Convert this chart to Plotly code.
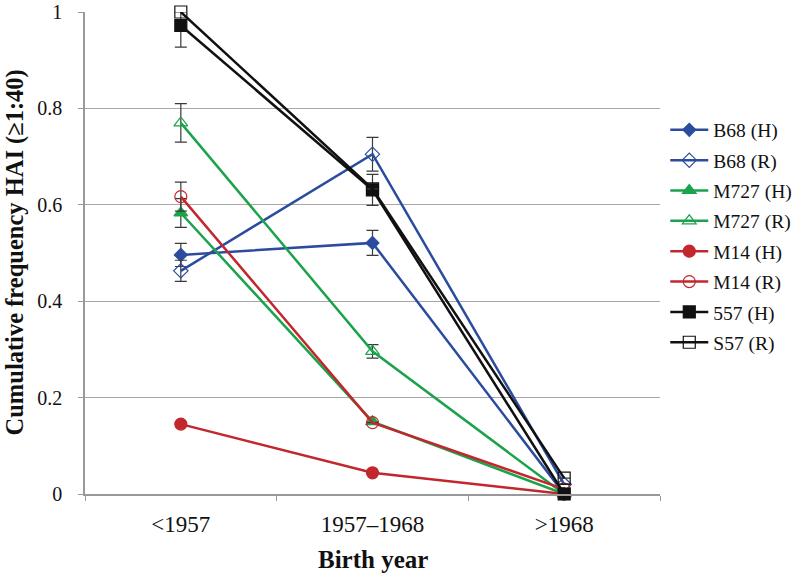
import plotly.graph_objects as go

categories = ["<1957", "1957–1968", ">1968"]

series_names = ["B68 (H)", "B68 (R)", "M727 (H)", "M727 (R)", "M14 (H)", "M14 (R)", "557 (H)", "S57 (R)"]

b68_h = [0.496, 0.521, 0.0]
b68_r = [0.463, 0.705, 0.02]
m727_h = [0.583, 0.150, 0.0]
m727_r = [0.770, 0.296, 0.0]
m14_h = [0.145, 0.044, 0.0]
m14_r = [0.617, 0.148, 0.01]
s557_h = [0.972, 0.631, 0.0]
s57_r = [1.0, 0.633, 0.033]

b68_h_err = [0.024, 0.026, None]
b68_r_err = [0.022, 0.035, None]
m727_h_err = [0.03, None, None]
m727_r_err = [0.04, 0.014, None]
m14_h_err = [None, None, None]
m14_r_err = [0.03, None, None]
s557_h_err = [0.045, 0.032, None]
s57_r_err = [None, None, None]

y_ticks = [0, 0.2, 0.4, 0.6, 0.8, 1]
y_ticktext = ["0", "0.2", "0.4", "0.6", "0.8", "1"]

x_title = "Birth year"
y_title = "Cumulative frequency HAI (≥1:40)"

BLUE = "#2B4C9E"
GREEN = "#1BA34B"
RED = "#C1272D"
BLACK = "#111111"

specs = [
    (series_names[0], b68_h, b68_h_err, BLUE, "diamond", 10),
    (series_names[1], b68_r, b68_r_err, BLUE, "diamond-open", 11),
    (series_names[2], m727_h, m727_h_err, GREEN, "triangle-up", 12),
    (series_names[3], m727_r, m727_r_err, GREEN, "triangle-up-open", 12),
    (series_names[4], m14_h, m14_h_err, RED, "circle", 12),
    (series_names[5], m14_r, m14_r_err, RED, "circle-open", 12),
    (series_names[6], s557_h, s557_h_err, BLACK, "square", 12),
    (series_names[7], s57_r, s57_r_err, BLACK, "square-open", 12),
]

fig = go.Figure()
for name, vals, err, color, sym, size in specs:
    fig.add_trace(go.Scatter(
        x=categories, y=vals, name=name, mode="lines+markers",
        legendgroup=name,
        line=dict(color=color, width=2.5),
        marker=dict(symbol=sym, size=size, color=color, line=dict(color=color, width=1.2)),
        error_y=dict(type="data", array=err, visible=True, color="#3a3a3a", thickness=1.2, width=6),
        cliponaxis=False,
    ))

font_family = "Liberation Serif, Times New Roman, serif"

fig.update_layout(
    width=792, height=573,
    margin=dict(l=85, r=132, t=12, b=79, autoexpand=False),
    paper_bgcolor="white", plot_bgcolor="white",
    font=dict(family=font_family, color="#111111", size=19),
    showlegend=True,
    legend=dict(x=0.84, xanchor="left", xref="container", y=0.535, yanchor="middle",
                font=dict(size=19.5, family=font_family), tracegroupgap=2,
                itemwidth=38, bgcolor="rgba(0,0,0,0)"),
    xaxis=dict(
        type="category", range=[-0.5, 2.5], tickson="boundaries",
        ticks="outside", ticklen=5, tickcolor="#999999",
        showline=True, linecolor="#999999", linewidth=1.5,
        showgrid=False, tickfont=dict(size=23), ticklabelstandoff=9,
        automargin=False,
    ),
    yaxis=dict(
        range=[0, 1], tickvals=y_ticks, ticktext=y_ticktext,
        ticks="outside", ticklen=5, tickcolor="#999999",
        showline=True, linecolor="#999999", linewidth=1.5,
        showgrid=True, gridcolor="#a8a8a8", gridwidth=1,
        zeroline=False, tickfont=dict(size=20), ticklabelstandoff=12,
        automargin=False,
    ),
    annotations=[
        dict(text="<b>" + x_title + "</b>", xref="paper", yref="paper",
             x=0.5, y=-0.135, xanchor="center", yanchor="middle",
             showarrow=False, font=dict(size=25, family=font_family, color="#111111")),
        dict(text="<b>" + y_title + "</b>", xref="paper", yref="paper",
             x=-0.121, y=0.502, xanchor="center", yanchor="middle", textangle=-90,
             showarrow=False, font=dict(size=24.5, family=font_family, color="#111111")),
    ],
)

fig.write_html("out.html", config={"displayModeBar": False},
               post_script="document.body.style.margin='0';")
